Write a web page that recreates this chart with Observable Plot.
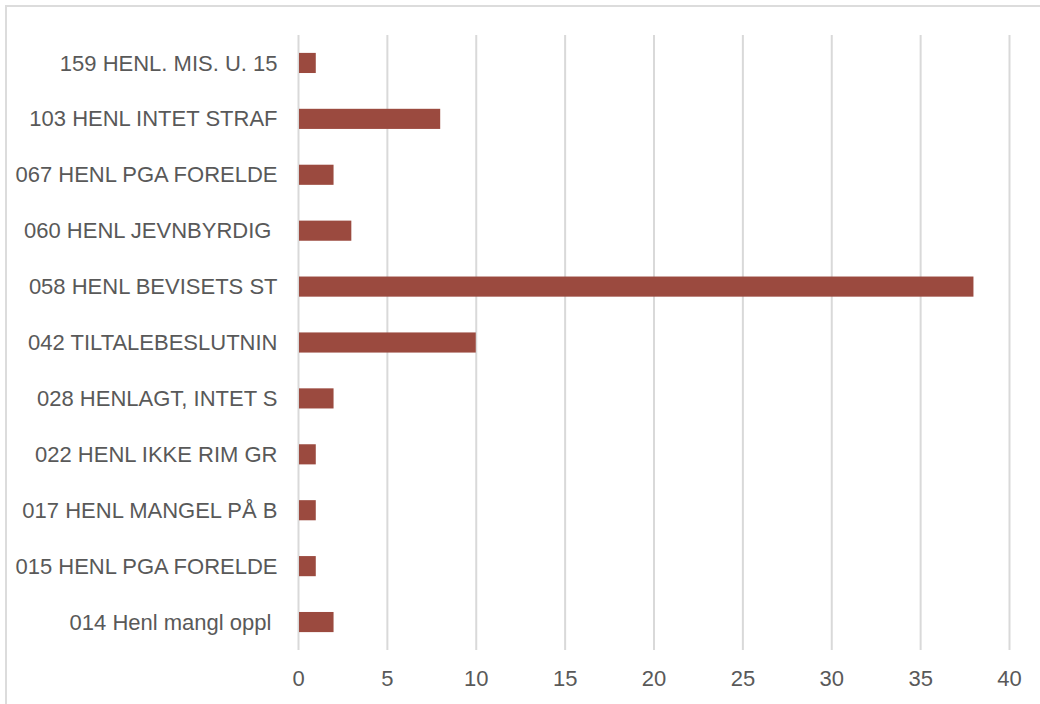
<!DOCTYPE html>
<html>
<head>
<meta charset="utf-8">
<script src="https://cdn.jsdelivr.net/npm/d3@7"></script>
<script src="https://cdn.jsdelivr.net/npm/@observablehq/plot@0.6"></script>
<style>
  html, body { margin: 0; padding: 0; background: #fff; }
  #wrap { position: relative; width: 1040px; height: 704px; overflow: hidden; }
  #frame { position: absolute; left: 5px; top: 5px; width: 1040px; height: 710px; border: 2px solid #dcdcdc; box-sizing: border-box; pointer-events: none; }
</style>
</head>
<body>
<div id="wrap"><div id="frame"></div></div>
<script>
const categories = [
  "159 HENL. MIS. U. 15",
  "103 HENL INTET STRAF",
  "067 HENL PGA FORELDE",
  "060 HENL JEVNBYRDIG ",
  "058 HENL BEVISETS ST",
  "042 TILTALEBESLUTNIN",
  "028 HENLAGT, INTET S",
  "022 HENL IKKE RIM GR",
  "017 HENL MANGEL PÅ B",
  "015 HENL PGA FORELDE",
  "014 Henl mangl oppl "
];
const values = [1, 8, 2, 3, 38, 10, 2, 1, 1, 1, 2];
const xTicks = [0, 5, 10, 15, 20, 25, 30, 35, 40];

const data = categories.map((c, i) => ({ id: i, cat: c, value: values[i] }));

const chart = Plot.plot({
  width: 1040,
  height: 704,
  marginLeft: 298,
  marginRight: 31,
  marginTop: 35,
  marginBottom: 54,
  style: { fontFamily: "'Liberation Sans', Arial, sans-serif", fontSize: "22px", color: "#595959", background: "transparent" },
  x: { domain: [0, 40], ticks: xTicks, label: null },
  y: { domain: data.map(d => d.id), paddingInner: 0.64, paddingOuter: 0.32, round: false, label: null },
  marks: [
    Plot.gridX(xTicks, { stroke: "#d9d9d9", strokeOpacity: 1, strokeWidth: 2 }),
    Plot.barX(data, { x1: 0, x2: "value", y: "id", fill: "#9b4a3f", insetLeft: 1 }),
    Plot.axisX({ ticks: xTicks, tickSize: 0, tickPadding: 20, label: null, fill: "#595959", fontSize: 22 }),
    Plot.axisY({ tickSize: 0, tickPadding: 21, label: null, tickFormat: i => categories[i], fill: "#595959", fontSize: 22 })
  ]
});
chart.style.position = "absolute";
chart.style.left = "0";
chart.style.top = "0";
document.getElementById("wrap").appendChild(chart);
</script>
</body>
</html>
